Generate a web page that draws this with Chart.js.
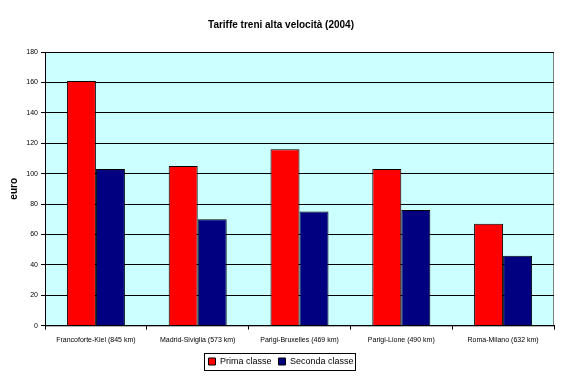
<!DOCTYPE html>
<html>
<head>
<meta charset="utf-8">
<script src="https://cdn.jsdelivr.net/npm/chart.js@4"></script>
<style>
    body { margin: 0; background: #fff; }
</style>
</head>
<body>
<canvas id="chart" width="573" height="379"></canvas>
<script>
var CATEGORIE = [
    'Francoforte-Kiel (845 km)',
    'Madrid-Siviglia (573 km)',
    'Parigi-Bruxelles (469 km)',
    'Parigi-Lione (490 km)',
    'Roma-Milano (632 km)'
];
var PRIMA_CLASSE = [161, 105, 116, 103, 67];
var SECONDA_CLASSE = [103, 70, 75, 76, 46];
var Y_TICKS = [0, 20, 40, 60, 80, 100, 120, 140, 160, 180];

var FONT = "'Liberation Sans', Arial, sans-serif";

//sfondo azzurro dell'area del grafico + bordo grigio
var plotBg = {
    id: 'plotBg',
    beforeDraw: function (chart) {
        var a = chart.chartArea;
        var ctx = chart.ctx;
        ctx.save();
        ctx.fillStyle = '#ccffff';
        ctx.fillRect(a.left, a.top, a.right - a.left, a.bottom - a.top);
        ctx.strokeStyle = '#808080';
        ctx.lineWidth = 1;
        ctx.strokeRect(a.left + 0.5, a.top + 0.5, a.right - a.left - 1, a.bottom - a.top);
        ctx.restore();
    }
};

//cornice intorno alla legenda
var legendBox = {
    id: 'legendBox',
    afterDraw: function (chart) {
        var boxes = chart.legend.legendHitBoxes;
        if (!boxes || !boxes.length) return;
        var x1 = boxes[0].left - 4;
        var last = boxes[boxes.length - 1];
        var x2 = last.left + last.width + 2;
        var y1 = boxes[0].top - 4;
        var y2 = boxes[0].top + boxes[0].height + 4;
        var ctx = chart.ctx;
        ctx.save();
        ctx.strokeStyle = '#000';
        ctx.lineWidth = 1;
        ctx.strokeRect(Math.round(x1) + 0.5, Math.round(y1) + 0.5, Math.round(x2 - x1), Math.round(y2 - y1));
        ctx.restore();
    }
};

new Chart(document.getElementById('chart'), {
    type: 'bar',
    data: {
        labels: CATEGORIE,
        datasets: [{
            label: 'Prima classe',
            data: PRIMA_CLASSE,
            backgroundColor: '#ff0000',
            borderColor: '#000000',
            borderWidth: 1,
            categoryPercentage: 0.57,
            barPercentage: 1
        }, {
            label: 'Seconda classe',
            data: SECONDA_CLASSE,
            backgroundColor: '#000080',
            borderColor: '#000000',
            borderWidth: 1,
            categoryPercentage: 0.57,
            barPercentage: 1
        }]
    },
    options: {
        responsive: false,
        animation: false,
        layout: {
            padding: { left: 8, right: 19, top: 0, bottom: 3 }
        },
        plugins: {
            title: {
                display: true,
                text: 'Tariffe treni alta velocità (2004)',
                color: '#000',
                font: { family: FONT, size: 10, weight: 'bold' },
                padding: { top: 19, bottom: 21 }
            },
            legend: {
                position: 'bottom',
                labels: {
                    color: '#000',
                    font: { family: FONT, size: 9 },
                    boxWidth: 7,
                    boxHeight: 7,
                    padding: 7
                }
            },
            tooltip: { enabled: false }
        },
        scales: {
            x: {
                grid: {
                    display: true,
                    drawOnChartArea: false,
                    offset: true,
                    tickLength: 4,
                    color: '#000'
                },
                border: { color: '#000' },
                ticks: {
                    color: '#000',
                    font: { family: FONT, size: 7 },
                    maxRotation: 0,
                    padding: 6
                }
            },
            y: {
                min: 0,
                max: 180,
                afterBuildTicks: function (scale) {
                    scale.ticks = Y_TICKS.map(function (v) { return { value: v }; });
                },
                afterFit: function (scale) {
                    scale.width = 37;
                },
                grid: {
                    color: '#000',
                    tickLength: 4,
                    tickColor: '#000'
                },
                border: { color: '#000' },
                title: {
                    display: true,
                    text: 'euro',
                    color: '#000',
                    font: { family: FONT, size: 10, weight: 'bold' },
                    padding: 0
                },
                ticks: {
                    color: '#000',
                    font: { family: FONT, size: 7 },
                    padding: 3
                }
            }
        }
    },
    plugins: [plotBg, legendBox]
});
</script>
</body>
</html>
